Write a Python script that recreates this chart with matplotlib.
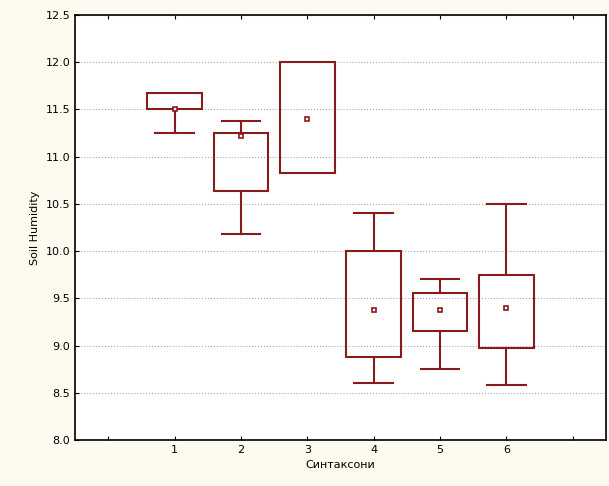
import matplotlib.pyplot as plt

groups = [1, 2, 3, 4, 5, 6]
box_lo = [11.50, 10.64, 10.83, 8.88, 9.15, 8.97]
box_hi = [11.67, 11.25, 12.00, 10.00, 9.56, 9.75]
wh_lo = [11.25, 10.18, 10.83, 8.60, 8.75, 8.58]
wh_hi = [11.67, 11.38, 12.00, 10.40, 9.70, 10.50]
centre = [11.50, 11.22, 11.40, 9.38, 9.38, 9.40]

col = '#8b1a1a'
fig = plt.figure(figsize=(6.09, 4.86), dpi=100, facecolor='#fdfaf0')
ax = fig.add_axes([75/609, 46/486, 531/609, 425/486])
ax.set_facecolor('white')

bw = 0.41
cw = 0.29
for x, bl, bh, wl, wh, c in zip(groups, box_lo, box_hi, wh_lo, wh_hi, centre):
    ax.add_patch(plt.Rectangle((x - bw, bl), 2 * bw, bh - bl, fill=False, ec=col, lw=1.5, zorder=3))
    if wl < bl:
        ax.plot([x, x], [wl, bl], color=col, lw=1.5, zorder=3)
        ax.plot([x - cw, x + cw], [wl, wl], color=col, lw=1.5, zorder=3)
    if wh > bh:
        ax.plot([x, x], [bh, wh], color=col, lw=1.5, zorder=3)
        ax.plot([x - cw, x + cw], [wh, wh], color=col, lw=1.5, zorder=3)
    ax.plot(x, c, 's', ms=3.5, mfc='white', mec=col, mew=1.2, zorder=4)

ax.set_xlim(-0.5, 7.5)
ax.set_ylim(8.0, 12.5)
ax.set_xticks(range(0, 8))
ax.set_xticklabels([''] + [str(g) for g in groups] + [''], fontsize=8)
ax.set_yticks([8.0 + 0.5 * i for i in range(10)])
ax.set_yticklabels(['%.1f' % (8.0 + 0.5 * i) for i in range(10)], fontsize=8)
ax.tick_params(direction='in', top=True, right=False, length=3)
ax.grid(axis='y', linestyle=':', color='#aaaaaa', lw=0.8)
ax.set_axisbelow(True)
for s in ax.spines.values():
    s.set_linewidth(1.2)
ax.set_xlabel('Синтаксони', fontsize=8)
ax.set_ylabel('Soil Humidity', fontsize=8)

plt.savefig('out.png', dpi=100, facecolor=fig.get_facecolor())
